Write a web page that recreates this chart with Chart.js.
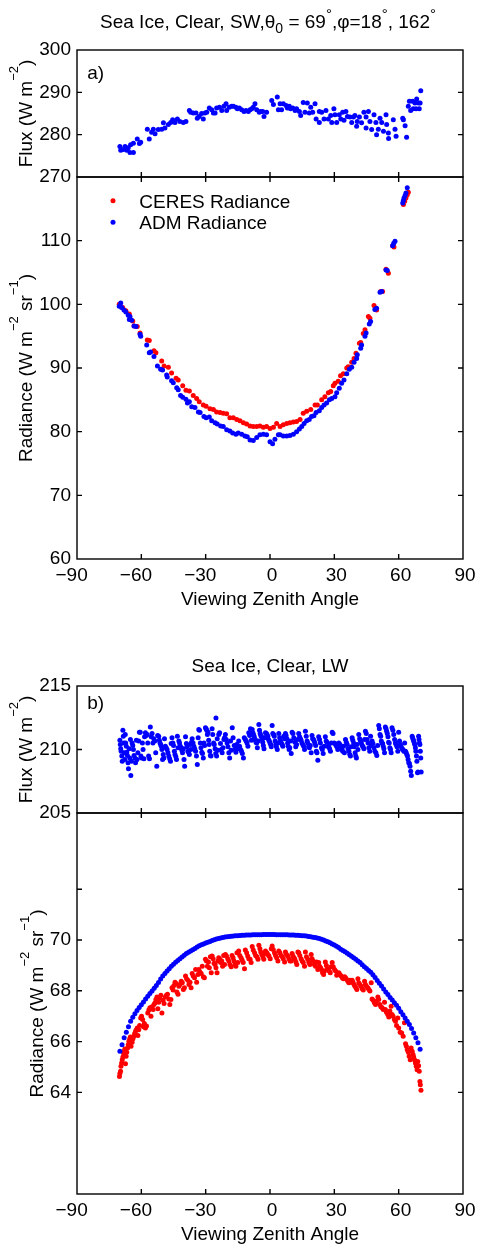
<!DOCTYPE html>
<html><head><meta charset="utf-8">
<script src="https://cdn.jsdelivr.net/npm/chart.js@4.4.1/dist/chart.umd.min.js"></script>
<style>
html,body{margin:0;padding:0;background:#fff;}
#wrap{position:relative;width:477px;height:1245px;overflow:hidden;background:#fff;}
canvas{position:absolute;left:0;}
</style></head><body>
<div id="wrap">
<canvas id="c1"></canvas><canvas id="c2"></canvas><canvas id="c3"></canvas><canvas id="c4"></canvas>
</div>
<script>
// ---------- tick values ----------
const xTicks = [-90, -60, -30, 0, 30, 60, 90];
const swFluxTicks = [270, 280, 290, 300];
const swRadTicks = [60, 70, 80, 90, 100, 110, 120];
const swRadLabels = [60, 70, 80, 90, 100, 110];
const lwFluxTicks = [205, 210, 215];
const lwRadTicks = [64, 66, 68, 70, 72];
const lwRadLabels = [64, 66, 68, 70];

// ---------- (a) SW flux, ADM [angle, W m-2] ----------
const swFlux = [[-70.0,277.2],[-69.6,276.3],[-68.4,276.5],[-67.6,277.2],[-66.8,276.3],[-66.1,276.9],[-65.3,275.8],[-65.0,277.6],[-63.7,275.8],[-63.7,278.0],[-61.9,279.0],[-60.9,277.9],[-60.3,278.2],[-57.2,281.3],[-56.3,279.0],[-55.2,280.6],[-54.4,281.3],[-53.6,280.2],[-52.1,281.2],[-50.5,281.3],[-49.7,282.8],[-49.0,281.6],[-47.4,282.4],[-46.3,282.9],[-45.4,283.5],[-44.3,282.9],[-43.2,283.7],[-42.0,283.1],[-40.4,282.9],[-39.2,283.1],[-37.6,285.7],[-37.0,285.3],[-35.8,285.1],[-34.5,285.1],[-33.9,283.9],[-33.0,284.3],[-31.9,285.0],[-31.1,283.7],[-30.3,285.1],[-29.5,285.3],[-28.3,286.3],[-27.2,285.9],[-26.4,285.1],[-25.6,285.1],[-24.9,286.3],[-23.6,286.5],[-22.5,285.7],[-21.5,286.7],[-20.5,287.3],[-20.2,285.7],[-19.0,286.5],[-17.9,286.7],[-17.1,286.7],[-15.9,286.5],[-15.2,286.1],[-14.3,286.3],[-13.2,285.9],[-12.1,285.5],[-11.2,285.7],[-10.1,285.5],[-9.3,285.9],[-8.5,286.1],[-7.8,286.5],[-7.0,287.3],[-6.2,285.9],[-5.0,285.3],[-4.4,285.5],[-3.4,285.5],[-2.8,284.3],[-1.6,285.3],
[0.8,288.1],[1.6,287.1],[3.4,288.9],[3.9,285.9],[4.7,287.3],[5.4,285.9],[6.2,287.3],[7.5,286.9],[8.1,286.3],[9.0,286.7],[9.6,286.1],[10.6,286.3],[11.7,285.7],[12.4,286.1],[13.7,285.5],[14.3,284.5],[15.5,287.6],[16.3,285.3],[17.4,287.5],[18.3,285.1],[19.0,286.5],[19.9,285.3],[21.0,287.3],[21.5,283.7],[23.0,282.9],[23.0,285.5],[24.1,285.3],[25.2,283.7],[26.1,285.7],[27.2,283.7],[28.3,284.5],[28.8,282.9],[29.8,286.1],[30.3,284.7],[31.1,282.9],[32.3,284.7],[33.0,283.7],[33.9,285.3],[34.5,283.4],[35.4,285.5],[36.1,284.3],[37.3,284.2],[38.1,282.9],[38.9,284.2],[39.6,284.5],[40.4,282.0],[40.7,283.1],[41.7,284.2],[42.7,282.8],[43.8,285.3],[44.8,281.6],[44.8,284.2],[45.9,285.5],[46.6,283.1],[47.4,281.2],[48.5,284.7],[49.4,282.9],[49.7,280.0],[50.5,281.3],[51.3,283.9],[52.1,282.9],[52.9,280.8],[54.1,284.7],[54.4,282.4],[55.2,280.4],[55.3,279.1],[57.5,283.5],[58.3,281.3],[58.8,279.6],[61.9,283.9],[62.2,283.5],[63.0,282.1],[63.7,279.4],[64.5,286.7],[65.0,287.9],[65.6,285.7],[66.5,287.9],[66.8,286.1],[67.6,287.5],[68.1,286.1],[68.4,288.4],[69.2,287.5],[69.6,286.1],[70.3,290.4],[70.0,287.5]];

// ---------- (a) SW radiance [angle, W m-2 sr-1] ----------
const swCeres = [[-70.3,100.0],[-68.7,99.5],[-67.2,99.0],[-65.6,98.5],[-64.0,97.4],[-63.4,96.6],[-61.9,96.5],[-60.6,95.5],[-57.2,94.4],[-56.3,94.3],[-54.1,92.7],[-53.2,92.4],[-50.5,91.1],[-49.4,90.3],[-47.4,90.1],[-45.9,89.2],[-43.8,88.4],[-42.8,88.1],[-40.7,87.2],[-39.2,86.5],[-37.6,86.4],[-35.8,85.7],[-34.2,85.2],[-33.0,84.7],[-31.1,84.2],[-29.8,84.0],[-28.0,83.6],[-26.4,83.5],[-24.9,83.1],[-23.3,83.0],[-21.8,82.9],[-20.2,82.8],[-18.7,82.2],[-17.1,82.2],[-15.5,81.9],[-14.0,81.7],[-12.4,81.4],[-10.9,81.2],[-9.3,80.9],[-7.8,80.8],[-6.2,80.8],[-4.7,80.9],[-3.1,80.7],[-1.6,80.8],[0.0,80.5],[1.6,80.7],[3.1,81.3],
[4.7,80.8],[6.2,81.1],[7.8,81.3],[9.3,81.4],[10.9,81.5],[12.4,81.6],[14.0,81.9],[15.5,82.9],[17.1,83.2],[19.0,83.5],[21.0,84.2],[22.1,84.2],[24.1,85.0],[25.6,85.5],[27.2,86.1],[28.3,86.3],[29.5,87.2],[30.3,87.6],[31.8,87.9],[32.9,88.8],[34.2,89.1],[35.8,90.0],[36.5,90.2],[38.1,90.9],[39.2,91.5],[40.1,92.3],[41.7,93.9],[42.3,94.0],[43.5,95.4],[44.3,96.0],[45.9,98.1],[46.6,97.8],[48.5,99.8],[49.7,99.1],[51.6,102.0],[52.5,102.0],[54.1,105.5],[55.2,104.9],[57.2,109.2],[57.8,109.0],[62.2,115.7],[62.8,116.2],[63.4,116.7],[64.0,117.2],[64.5,117.6]];
const swAdm = [[-70.3,99.7],[-69.6,100.2],[-69.2,99.5],[-68.1,99.1],[-67.2,98.8],[-66.1,98.3],[-65.6,97.6],[-65.3,98.1],[-64.5,97.5],[-63.4,96.6],[-62.5,96.5],[-60.6,95.3],[-60.3,95.0],[-57.5,93.6],[-56.3,92.4],[-55.7,92.5],[-54.1,91.8],[-52.5,90.3],[-51.0,89.8],[-50.1,89.7],[-48.2,88.9],[-47.9,88.6],[-45.9,88.0],[-45.1,87.7],[-43.5,86.9],[-42.8,86.6],[-41.7,85.7],[-40.7,85.4],[-39.2,85.1],[-38.5,84.5],[-37.6,84.7],[-36.5,83.9],[-35.0,83.8],[-33.4,83.1],[-32.6,83.0],[-30.8,82.4],[-29.8,82.2],[-28.3,82.3],[-27.2,81.7],[-25.6,81.4],[-24.6,81.2],[-23.0,80.9],[-21.8,80.8],[-20.2,80.3],[-18.7,80.1],[-17.4,79.8],[-15.9,79.6],[-14.8,79.8],[-13.2,79.6],[-11.7,79.3],[-10.6,79.2],[-9.3,78.7],[-7.8,78.6],[-6.2,79.1],[-4.7,79.5],[-3.1,79.6],[-1.6,79.5],[0.0,78.4],[1.2,78.1],[2.3,78.8],[3.9,79.5],
[4.7,79.5],[6.2,79.3],[7.8,79.3],[9.3,79.4],[10.9,79.6],[12.4,80.0],[13.7,80.4],[14.8,80.8],[15.9,81.3],[17.1,81.7],[18.3,81.9],[19.4,82.4],[20.5,82.5],[21.5,83.0],[23.0,83.3],[24.1,83.8],[25.2,84.2],[26.4,84.5],[27.7,85.0],[28.8,85.2],[30.3,85.5],[31.1,86.1],[32.3,86.8],[33.4,87.6],[34.5,88.1],[35.8,89.1],[37.0,89.8],[38.1,90.1],[39.2,90.9],[40.4,91.5],[40.7,92.1],[42.3,93.1],[42.7,93.6],[44.3,95.0],[44.8,95.5],[46.3,96.9],[46.9,97.3],[48.9,99.2],[49.7,99.4],[51.3,101.9],[52.1,102.0],[54.1,105.4],[54.7,105.3],[57.2,109.2],[57.7,109.6],[58.3,109.9],[61.9,115.9],[62.2,116.3],[62.5,116.7],[63.0,117.1],[63.4,117.5],[64.0,118.3]];

// ---------- (b) LW flux, ADM [angle, W m-2] ----------
const lwFlux = [[-70.0,210.73],[-69.8,210.39],[-69.6,210.05],[-69.4,209.87],[-69.1,209.48],[-68.9,209.08],[-68.6,211.52],[-68.4,211.05],[-68.1,210.52],[-67.9,209.74],[-67.7,209.21],
[-67.5,211.18],[-67.3,210.52],[-67.0,210.26],[-66.8,209.79],[-66.5,209.53],[-66.2,208.95],[-66.0,208.48],[-64.9,207.95],[-65.7,210.05],[-65.4,209.34],[-65.1,210.79],[-64.6,209.08],
[-64.3,210.52],[-64.0,210.31],[-63.7,210.00],[-63.4,209.53],[-63.0,209.34],[-62.7,208.95],[-62.3,210.73],[-62.0,209.21],[-61.6,209.74],
[-61.2,210.66],[-60.9,211.36],[-60.5,211.36],[-60.2,209.48],[-59.9,209.34],[-59.5,210.52],[-59.2,210.00],[-58.8,209.27],[-58.5,211.00],
[-58.1,211.31],[-57.7,211.10],[-57.3,211.18],[-57.0,210.52],[-56.6,209.48],[-56.2,209.27],[-55.8,211.78],[-55.4,211.00],
[-55.0,211.26],[-54.6,210.52],[-54.2,210.84],[-53.7,210.66],[-53.3,209.74],[-52.8,208.69],[-52.4,211.10],
[-51.9,211.05],[-51.6,210.73],[-51.3,210.52],[-51.0,210.39],[-50.7,210.26],[-50.4,210.00],[-50.1,209.21],[-49.8,209.61],[-49.5,209.34],[-49.2,210.84],
[-48.8,210.26],[-48.4,210.13],[-48.0,210.00],[-47.6,209.74],[-47.2,209.48],[-46.8,209.27],[-46.4,209.08],[-46.1,210.47],
[-45.7,210.92],[-45.3,210.52],[-45.0,210.31],[-44.6,209.87],[-44.3,209.61],[-43.9,209.42],[-43.6,209.21],[-43.2,211.05],[-42.9,210.13],
[-42.5,210.66],[-42.2,210.52],[-41.8,210.26],[-41.5,210.13],[-41.1,209.95],[-40.8,209.74],[-40.4,210.05],[-40.1,209.21],[-39.8,208.69],
[-39.4,211.00],[-39.0,210.47],[-38.7,210.21],[-38.3,209.87],[-38.0,209.79],[-37.6,209.61],[-37.3,210.39],[-36.9,210.00],[-36.6,210.58],
[-36.3,210.84],[-35.9,210.52],[-35.5,210.26],[-35.1,210.05],[-34.7,209.87],[-34.3,209.48],[-33.9,208.82],[-33.5,210.92],
[-33.2,211.57],[-32.9,211.52],[-32.5,210.52],[-32.2,210.13],[-31.8,209.79],[-31.5,209.69],[-31.1,209.34],[-30.8,210.52],[-30.5,210.31],
[-30.1,211.71],[-29.8,211.63],[-29.5,211.52],[-29.2,211.18],[-28.9,211.36],[-28.6,210.73],[-28.4,210.39],[-28.1,209.87],[-27.8,209.53],[-27.5,209.48],
[-27.0,211.63],[-26.7,211.18],[-26.3,210.52],[-26.0,210.39],[-25.6,210.05],[-25.3,209.69],[-25.2,212.49],[-24.9,209.48],[-24.6,210.84],[-24.3,209.95],
[-23.9,211.18],[-23.5,211.31],[-23.1,210.47],[-22.7,210.00],[-22.3,209.74],[-21.9,210.13],[-21.5,210.79],[-21.2,210.92],
[-20.8,211.18],[-20.4,210.79],[-20.0,210.52],[-19.6,210.21],[-19.2,209.74],[-18.8,209.34],[-18.4,210.66],[-18.1,209.95],
[-17.6,211.71],[-17.2,210.92],[-16.7,210.31],[-16.3,210.00],[-15.9,209.79],[-15.5,210.39],[-15.1,210.05],
[-14.6,210.66],[-14.2,210.26],[-13.7,210.00],[-13.3,209.87],[-12.9,209.69],[-12.4,209.34],[-12.0,210.92],
[-11.5,210.79],[-11.1,210.66],[-10.7,210.52],[-10.3,210.26],[-9.9,211.31],[-9.5,211.10],[-9.1,211.63],[-8.7,210.73],
[-8.3,211.57],[-8.0,211.31],[-7.7,211.18],[-7.4,211.05],[-7.1,210.84],[-6.8,210.73],[-6.5,210.58],[-6.2,210.52],[-5.9,210.13],[-5.6,210.66],
[-5.2,211.97],[-4.9,211.52],[-4.6,211.26],[-4.3,211.10],[-4.0,211.00],[-3.7,210.79],[-3.4,210.58],[-3.1,210.31],[-2.8,210.05],[-2.5,210.92],
[-2.1,211.31],[-1.7,211.26],[-1.4,211.18],[-1.0,211.05],[-0.7,210.79],[-0.3,210.66],[0.0,210.52],[0.3,210.39],[0.6,210.21],
[1.0,211.89],[1.3,211.26],[1.7,211.18],[2.0,211.05],[2.4,210.66],[2.7,210.39],[3.0,210.21],[3.4,210.00],[3.7,210.52],
[4.1,211.26],[4.5,210.92],[4.9,210.66],[5.3,210.52],[5.7,210.39],[6.0,210.26],[6.4,211.05],[6.8,210.84],
[7.2,211.26],[7.5,211.10],[7.9,210.84],[8.2,210.52],[8.5,210.26],[8.9,210.00],[9.2,210.13],[9.6,210.66],[9.9,209.69],
[10.3,211.36],[10.7,211.26],[11.1,210.92],[11.6,210.58],[12.0,210.21],[12.4,210.39],[12.9,210.79],
[13.4,211.26],[13.8,211.00],[14.2,210.84],[14.5,210.73],[14.9,210.52],[15.3,210.39],[15.7,210.26],[16.1,210.00],
[16.5,211.44],[16.9,211.05],[17.3,210.66],[17.6,210.52],[18.0,210.21],[18.4,210.13],[18.8,210.31],[19.2,209.74],
[19.6,211.10],[19.9,210.84],[20.3,210.79],[20.6,210.66],[20.9,210.52],[21.3,210.31],[21.6,209.87],[21.9,209.74],[22.3,209.16],
[22.7,211.00],[23.1,210.79],[23.5,210.52],[24.0,210.13],[24.4,210.00],[24.8,209.69],[25.3,210.26],
[25.8,211.00],[26.2,210.66],[26.6,210.58],[27.0,210.26],[27.4,210.21],[27.8,210.05],[28.2,209.87],[28.6,210.52],
[29.0,211.36],[29.4,211.26],[29.9,210.52],[30.3,210.47],[30.8,210.31],[31.2,210.21],[31.6,210.00],
[32.1,210.52],[32.6,210.39],[33.0,210.13],[33.5,210.00],[33.9,209.87],[34.3,210.26],[34.7,209.74],
[35.2,210.79],[35.6,210.58],[36.0,210.39],[36.4,210.05],[36.8,209.87],[37.2,209.61],[37.5,209.48],[37.9,210.21],
[38.3,210.92],[38.6,210.73],[39.0,210.52],[39.3,210.21],[39.7,209.74],[40.0,209.48],[40.3,209.34],[40.6,210.39],[41.0,210.00],
[41.4,211.18],[41.8,210.84],[42.2,210.66],[42.6,210.52],[43.0,210.31],[43.4,210.21],[43.8,210.05],[44.1,210.79],
[44.5,211.44],[44.9,211.26],[45.3,210.79],[45.7,210.52],[46.1,210.13],[46.5,209.87],[46.9,211.05],[47.2,210.31],
[47.6,210.66],[48.0,210.47],[48.5,210.13],[48.9,209.87],[49.4,209.74],[49.8,209.53],[50.2,210.31],
[50.7,211.89],[51.0,211.63],[51.3,211.18],[51.6,211.05],[51.9,210.66],[52.2,210.52],[52.5,210.47],[52.8,210.26],[53.1,210.05],[53.4,209.74],
[53.8,211.78],[54.1,211.63],[54.4,211.44],[54.7,211.26],[55.0,211.00],[55.3,210.58],[55.6,210.52],[55.9,210.13],[56.2,210.00],[56.5,209.74],
[56.9,211.71],[57.3,211.52],[57.7,211.18],[58.1,210.79],[58.5,210.52],[58.8,210.39],[59.2,210.21],[59.6,209.87],
[60.0,211.36],[60.4,210.66],[60.8,210.39],[61.2,210.21],[61.6,210.05],[62.0,210.00],[62.4,209.87],[62.8,210.52],
[63.2,209.87],[63.5,209.74],[63.8,209.61],[64.1,209.48],[64.4,209.21],[64.7,208.95],[65.0,208.90],[65.3,208.69],[65.6,208.29],[65.9,207.95],
[66.3,211.05],[66.5,210.92],[66.8,210.79],[67.0,210.66],[67.3,210.52],[67.5,210.39],[67.8,210.13],[68.0,209.87],[68.3,209.48],[68.5,209.08],[68.8,208.16],[69.0,208.22],
[69.3,211.05],[69.5,210.79],[69.7,210.52],[69.9,210.39],[70.1,209.87],[70.3,209.34],[70.5,208.22]];

// ---------- (b) LW radiance [angle, W m-2 sr-1] ----------
const lwCeres = [[-70.2,64.63],[-70.0,64.74],[-69.7,64.83],[-69.5,65.03],[-69.2,65.16],[-68.9,65.29],[-68.6,65.39],[-68.3,65.55],[-68.0,65.62],[-67.7,65.71],
[-67.4,65.13],[-67.1,65.42],[-66.8,65.58],[-66.4,65.75],[-66.1,65.88],[-65.8,66.01],[-65.4,66.11],[-65.1,66.18],[-64.8,65.82],
[-64.3,65.97],[-63.9,66.11],[-63.5,66.21],[-63.1,66.32],[-62.7,66.41],[-62.3,66.47],[-61.9,66.54],[-61.6,66.24],
[-61.2,66.47],[-60.8,66.63],[-60.3,66.93],[-59.9,67.00],[-59.4,66.87],[-59.0,66.58],[-58.6,66.71],
[-58.1,66.54],[-57.6,66.61],[-57.0,67.13],[-56.5,67.24],[-56.0,67.33],[-55.5,67.00],
[-55.0,67.37],[-54.5,67.26],[-54.1,67.46],[-53.6,67.53],[-53.2,67.66],[-52.7,67.76],[-52.3,67.29],
[-51.9,67.55],[-51.4,67.72],[-50.9,67.82],[-50.4,67.13],[-49.9,67.63],[-49.4,67.50],
[-48.8,67.76],[-48.3,67.82],[-47.8,67.86],[-47.2,67.68],[-46.7,67.46],[-46.2,67.66],
[-45.7,68.12],[-45.2,68.03],[-44.8,68.21],[-44.3,68.34],[-43.8,68.29],[-43.4,67.95],[-42.9,67.86],
[-42.5,68.18],[-42.0,68.25],[-41.4,68.38],[-40.9,68.32],[-40.4,68.05],[-39.9,68.12],
[-39.4,68.58],[-38.9,68.47],[-38.3,68.42],[-37.8,68.25],[-37.3,68.34],[-36.8,68.12],
[-36.3,68.68],[-35.8,68.58],[-35.2,68.51],[-34.7,68.84],[-34.2,68.34],[-33.6,68.64],
[-33.2,68.84],[-32.7,68.74],[-32.1,68.68],[-31.6,68.97],[-31.1,68.55],[-30.6,68.51],
[-30.1,69.24],[-29.6,69.17],[-29.2,68.97],[-28.7,69.13],[-28.3,68.91],[-27.8,69.34],[-27.4,68.71],
[-27.0,69.37],[-26.5,69.26],[-26.1,69.08],[-25.6,69.04],[-25.2,68.91],[-24.7,68.71],[-24.3,69.17],
[-23.9,69.30],[-23.4,69.24],[-23.0,69.11],[-22.5,69.17],[-22.1,68.97],[-21.6,69.39],[-21.2,69.04],
[-20.8,69.43],[-20.3,69.37],[-19.7,69.26],[-19.2,69.17],[-18.7,69.04],[-18.1,68.95],
[-17.7,69.39],[-17.2,69.30],[-16.8,69.17],[-16.3,69.04],[-15.9,68.97],[-15.4,69.50],[-15.0,69.11],
[-14.6,69.57],[-14.1,69.39],[-13.5,69.30],[-13.0,69.21],[-12.5,69.11],[-11.9,68.87],
[-11.5,69.61],[-10.9,69.50],[-10.4,69.37],[-9.9,69.26],[-9.3,69.24],[-8.8,69.11],
[-8.3,69.74],[-7.8,69.61],[-7.2,69.50],[-6.7,69.39],[-6.1,69.34],[-5.6,69.24],
[-5.2,69.79],[-4.7,69.66],[-4.3,69.53],[-3.8,69.43],[-3.3,69.34],[-2.9,69.24],[-2.5,69.47],
[-2.1,69.57],[-1.5,69.50],[-1.0,69.43],[-0.5,69.37],[0.1,69.26],[0.6,69.66],
[1.0,69.76],[1.5,69.63],[2.1,69.50],[2.6,69.39],[3.1,69.30],[3.7,69.17],
[4.1,69.57],[4.6,69.50],[5.2,69.39],[5.7,69.34],[6.2,69.26],[6.8,69.13],
[7.2,69.53],[7.7,69.43],[8.3,69.37],[8.8,69.26],[9.3,69.17],[9.9,69.17],
[10.3,69.47],[10.7,69.37],[11.2,69.30],[11.6,69.24],[12.1,69.13],[12.5,69.04],[13.0,69.53],
[13.4,69.50],[13.9,69.39],[14.5,69.26],[15.0,69.17],[15.5,69.11],[16.1,68.97],
[16.5,69.53],[17.0,69.34],[17.6,69.24],[18.1,69.11],[18.6,69.04],[19.2,69.43],
[19.6,69.26],[20.1,69.17],[20.7,69.04],[21.2,68.97],[21.7,69.13],[22.3,68.84],
[22.7,69.11],[23.1,68.97],[23.6,68.91],[24.0,68.84],[24.5,68.71],[25.0,68.64],[25.4,68.78],
[25.8,69.13],[26.3,69.00],[26.7,68.87],[27.2,68.84],[27.6,68.78],[28.1,68.71],[28.5,68.95],
[29.0,69.11],[29.5,68.95],[30.1,68.84],[30.6,68.78],[31.1,68.61],[31.7,68.68],
[32.1,68.71],[32.6,68.64],[33.2,68.58],[33.7,68.51],[34.2,68.47],[34.8,68.55],
[35.2,68.51],[35.7,68.45],[36.3,68.38],[36.8,68.32],[37.3,68.42],[37.9,68.34],
[38.3,68.42],[38.7,68.34],[39.2,68.25],[39.6,68.18],[40.1,68.12],[40.5,68.05],[41.0,68.47],
[41.4,68.32],[41.9,68.25],[42.5,68.18],[43.0,68.08],[43.5,68.03],[44.1,68.38],
[44.5,68.25],[45.0,68.18],[45.6,68.12],[46.1,68.05],[46.6,67.99],[47.2,68.32],
[47.6,67.68],[48.1,67.63],[48.7,67.53],[49.2,67.46],[49.7,67.59],[50.3,67.76],
[50.7,67.66],[51.2,67.46],[51.7,67.37],[52.3,67.33],[52.8,67.26],[53.4,67.55],
[53.8,67.26],[54.3,67.16],[54.9,67.07],[55.4,66.97],[55.9,67.20],[56.5,67.39],
[56.9,67.07],[57.4,67.00],[58.0,66.87],[58.5,66.80],[59.0,66.63],[59.6,66.93],
[60.0,66.54],[60.7,66.37],[61.4,66.34],[62.1,66.21],[62.7,66.74],
[63.2,65.92],[63.6,65.82],[64.0,65.68],[64.5,65.58],[64.9,65.42],[65.4,65.29],[65.8,65.75],
[66.3,65.62],[66.7,65.49],[67.0,65.39],[67.4,65.29],[67.8,65.16],[68.2,65.03],[68.6,64.89],[68.9,65.22],
[69.3,65.05],[69.6,64.83],[69.9,64.43],[70.1,64.30],[70.4,64.08]];
const lwAdm = [[-70,65.62],[-69,65.88],[-68,66.15],[-67,66.37],[-66,66.58],[-65,66.80],[-64,66.96],[-63,67.10],[-62,67.22],[-61,67.34],[-60,67.45],[-59,67.56],[-58,67.68],[-57,67.79],[-56,67.89],[-55,67.99],[-54,68.10],[-53,68.21],[-52,68.33],[-51,68.46],[-50,68.58],[-49,68.68],[-48,68.78],[-47,68.87],[-46,68.97],[-45,69.05],[-44,69.12],[-43,69.19],[-42,69.26],[-41,69.33],[-40,69.40],[-39,69.47],[-38,69.52],[-37,69.57],[-36,69.62],[-35,69.67],[-34,69.72],[-33,69.77],[-32,69.81],[-31,69.84],[-30,69.88],[-29,69.91],[-28,69.94],[-27,69.98],[-26,70.01],[-25,70.04],[-24,70.06],[-23,70.08],[-22,70.10],[-21,70.12],[-20,70.13],[-19,70.14],[-18,70.15],[-17,70.16],[-16,70.17],[-15,70.17],[-14,70.18],[-13,70.19],[-12,70.19],[-11,70.20],[-10,70.20],[-9,70.20],[-8,70.21],[-7,70.21],[-6,70.21],[-5,70.21],[-4,70.21],[-3,70.22],[-2,70.22],[-1,70.22],[0,70.22],[1,70.22],[2,70.22],[3,70.21],[4,70.21],[5,70.21],[6,70.21],[7,70.21],[8,70.21],[9,70.20],[10,70.20],[11,70.20],[12,70.19],[13,70.19],[14,70.18],[15,70.17],[16,70.17],[17,70.16],[18,70.14],[19,70.13],[20,70.11],[21,70.10],[22,70.08],[23,70.06],[24,70.03],[25,70.00],[26,69.96],[27,69.93],[28,69.89],[29,69.84],[30,69.80],[31,69.75],[32,69.70],[33,69.64],[34,69.59],[35,69.54],[36,69.48],[37,69.42],[38,69.36],[39,69.30],[40,69.24],[41,69.17],[42,69.11],[43,69.03],[44,68.95],[45,68.88],[46,68.80],[47,68.73],[48,68.63],[49,68.52],[50,68.41],[51,68.30],[52,68.19],[53,68.07],[54,67.95],[55,67.85],[56,67.74],[57,67.64],[58,67.53],[59,67.43],[60,67.31],[61,67.18],[62,67.06],[63,66.93],[64,66.80],[65,66.67],[66,66.52],[67,66.34],[68,66.15],[69,65.95],[70,65.70]];

// ---------- rendering ----------
const FONT = "'Liberation Sans', Arial, Helvetica, sans-serif";
Chart.defaults.font.family = FONT;
Chart.defaults.font.size = 19;
Chart.defaults.color = '#000';
const RED = '#ff0000', BLUE = '#0000ff';
const FS = 19, SS = 13;

function drawRich(ctx, segs, x, y, rot, align) {
  ctx.save();
  ctx.translate(x, y);
  if (rot) ctx.rotate(-Math.PI / 2);
  let total = 0;
  const w = segs.map(s => { ctx.font = s.s + 'px ' + FONT; const m = ctx.measureText(s.t).width; total += m; return m; });
  let cx = align === 'left' ? 0 : -total / 2;
  ctx.fillStyle = '#000';
  ctx.textBaseline = 'alphabetic';
  ctx.textAlign = 'left';
  segs.forEach((s, i) => { ctx.font = s.s + 'px ' + FONT; ctx.fillText(s.t, cx, s.dy || 0); cx += w[i]; });
  ctx.restore();
}

const framePlugin = {
  id: 'frame',
  afterDatasetsDraw(chart, args, o) {
    const { ctx, chartArea: a, scales: { x, y } } = chart;
    ctx.save();
    ctx.strokeStyle = '#000';
    ctx.lineWidth = 1.4;
    ctx.strokeRect(a.left, a.top, a.right - a.left, a.bottom - a.top);
    const L = 5;
    ctx.beginPath();
    (o.xt || []).forEach(v => {
      const px = x.getPixelForValue(v);
      if (o.xb) { ctx.moveTo(px, a.bottom); ctx.lineTo(px, a.bottom - L); }
      if (o.xtop) { ctx.moveTo(px, a.top); ctx.lineTo(px, a.top + L); }
    });
    (o.yt || []).forEach(v => {
      const py = y.getPixelForValue(v);
      ctx.moveTo(a.left, py); ctx.lineTo(a.left + L, py);
      ctx.moveTo(a.right, py); ctx.lineTo(a.right - L, py);
    });
    ctx.stroke();
    (o.dots || []).forEach(d => {
      ctx.fillStyle = d.c; ctx.beginPath(); ctx.arc(d.x, d.y - o.top, 2.5, 0, Math.PI * 2); ctx.fill();
    });
    ctx.restore();
    (o.texts || []).forEach(t => drawRich(ctx, t.segs, t.x, t.y - o.top, t.rot, t.align));
  }
};

function fmtX(v) { return v < 0 ? '\u2212' + Math.abs(v) + ' \u2002' : String(v); }

function ds(label, arr, color, order) {
  return { label, data: arr.map(p => ({ x: p[0], y: p[1] })), backgroundColor: color, borderColor: color,
    pointRadius: 2.5, pointBorderWidth: 0, borderWidth: 0, pointHoverRadius: 2.5, order };
}

function panel(id, top, height, c) {
  const cv = document.getElementById(id);
  cv.width = 477; cv.height = height; cv.style.top = top + 'px';
  cv.style.width = '477px'; cv.style.height = height + 'px';
  return new Chart(cv, {
    type: 'scatter',
    data: { datasets: c.datasets },
    options: {
      responsive: false, animation: false, devicePixelRatio: 1, events: [],
      layout: { padding: { top: c.padTop, bottom: c.padBottom, left: 0, right: 14 } },
      plugins: { legend: { display: false }, tooltip: { enabled: false }, frame: c.frame },
      scales: {
        x: {
          type: 'linear', min: -90, max: 90, position: 'bottom',
          afterBuildTicks: s => { s.ticks = xTicks.map(v => ({ value: v })); },
          ticks: { display: c.xLabels, autoSkip: false, maxRotation: 0, minRotation: 0, padding: 5, labelOffset: 2,
            callback: v => fmtX(v), font: { size: FS } },
          grid: { display: false, drawTicks: false }, border: { display: false },
          afterFit: s => { s.height = c.xHeight; s.paddingLeft = 0; s.paddingRight = 0; }
        },
        y: {
          type: 'linear', min: c.yMin, max: c.yMax,
          afterBuildTicks: s => { s.ticks = c.yTicks.map(v => ({ value: v })); },
          ticks: { autoSkip: false, padding: 6, font: { size: FS },
            callback: v => (c.yLabels.includes(v) ? String(v) : '') },
          grid: { display: false, drawTicks: false }, border: { display: false },
          afterFit: s => { s.width = 77; s.paddingTop = 0; s.paddingBottom = 0; }
        }
      }
    },
    plugins: [framePlugin]
  });
}

const sup = t => ({ t, s: SS, dy: -14 });
const nor = t => ({ t, s: FS });

// (a) flux
panel('c1', 0, 200, {
  datasets: [ds('ADM Flux', swFlux, BLUE, 0)],
  padTop: 50, padBottom: 23, xHeight: 0, xLabels: false,
  yMin: 270, yMax: 300, yTicks: swFluxTicks, yLabels: swFluxTicks,
  frame: { top: 0, xt: [-60, -30, 0, 30, 60], xb: true, xtop: false, yt: [280, 290],
    texts: [
      { segs: [nor('Sea Ice, Clear, SW,'), nor('\u03b8'), { t: '0', s: 14, dy: 5 }, nor(' = 69'), { t: '\u00b0', s: 15, dy: -9 },
               nor(',\u03c6=18'), { t: '\u00b0', s: 15, dy: -9 }, nor(', 162'), { t: '\u00b0', s: 15, dy: -9 }], x: 268, y: 28 },
      { segs: [nor('Flux (W m'), sup('\u22122'), nor(')')], x: 31.5, y: 113.5, rot: true },
      { segs: [nor('a)')], x: 87.3, y: 78.5, align: 'left' }
    ] }
});

// (a) radiance
panel('c2', 150, 470, {
  datasets: [ds('CERES Radiance', swCeres, RED, 1), ds('ADM Radiance', swAdm, BLUE, 0)],
  padTop: 27, padBottom: 0, xHeight: 61, xLabels: true,
  yMin: 60, yMax: 120, yTicks: swRadTicks, yLabels: swRadLabels,
  frame: { top: 150, xt: [-60, -30, 0, 30, 60], xb: true, xtop: true, yt: [70, 80, 90, 100, 110],
    dots: [{ x: 113, y: 200.7, c: RED }, { x: 113, y: 222.3, c: BLUE }],
    texts: [
      { segs: [nor('Radiance (W m'), sup('\u22122'), nor(' sr'), sup('\u22121'), nor(')')], x: 31.5, y: 368, rot: true },
      { segs: [nor('CERES Radiance')], x: 139.3, y: 207.5, align: 'left' },
      { segs: [nor('ADM Radiance')], x: 139.3, y: 229, align: 'left' },
      { segs: [nor('Viewing Zenith Angle')], x: 270, y: 605 }
    ] }
});

// (b) flux
panel('c3', 630, 200, {
  datasets: [ds('ADM Flux', lwFlux, BLUE, 0)],
  padTop: 56, padBottom: 17, xHeight: 0, xLabels: false,
  yMin: 205, yMax: 215, yTicks: lwFluxTicks, yLabels: lwFluxTicks,
  frame: { top: 630, xt: [-60, -30, 0, 30, 60], xb: true, xtop: false, yt: [210],
    texts: [
      { segs: [nor('Sea Ice, Clear, LW')], x: 270, y: 672 },
      { segs: [nor('Flux (W m'), sup('\u22122'), nor(')')], x: 31.5, y: 749.5, rot: true },
      { segs: [nor('b)')], x: 87.3, y: 709, align: 'left' }
    ] }
});

// (b) radiance
panel('c4', 790, 455, {
  datasets: [ds('CERES Radiance', lwCeres, RED, 1), ds('ADM Radiance', lwAdm, BLUE, 0)],
  padTop: 23, padBottom: 0, xHeight: 51, xLabels: true,
  yMin: 60, yMax: 75, yTicks: lwRadTicks, yLabels: lwRadLabels,
  frame: { top: 790, xt: [-60, -30, 0, 30, 60], xb: true, xtop: true, yt: lwRadTicks,
    texts: [
      { segs: [nor('Radiance (W m'), sup('\u22122'), nor(' sr'), sup('\u22121'), nor(')')], x: 42.5, y: 1003.5, rot: true },
      { segs: [nor('Viewing Zenith Angle')], x: 270, y: 1240 }
    ] }
});
</script>
</body></html>
